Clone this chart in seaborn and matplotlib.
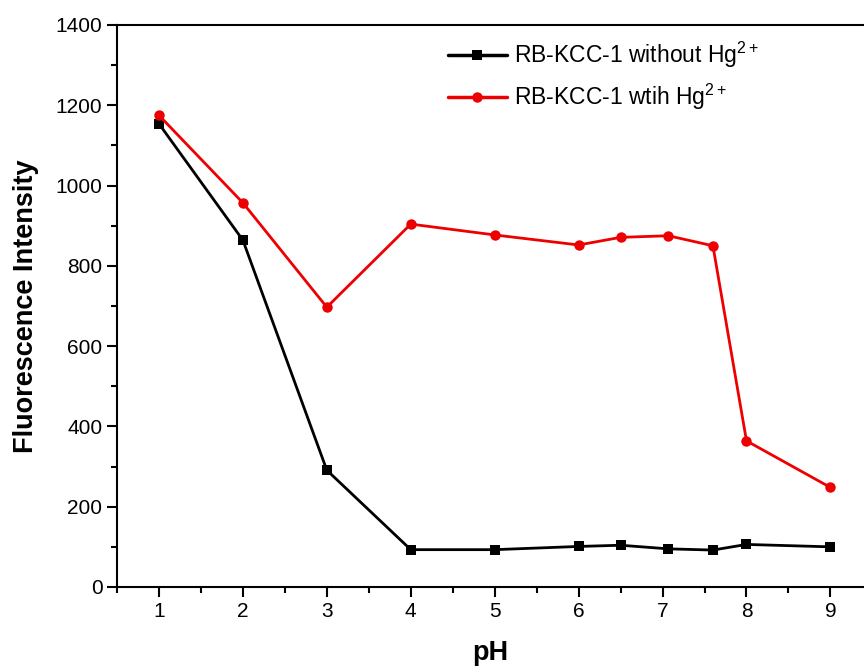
import numpy as np
import pandas as pd
import seaborn as sns
import matplotlib.pyplot as plt
from matplotlib.ticker import MultipleLocator

# pH values and fluorescence intensities
ph = [1, 2, 3, 4, 5, 6, 6.5, 7.07, 7.6, 8, 9]
without_hg = [1154, 864, 291, 93, 93, 101, 104, 95, 92, 106, 100]
with_hg = [1175, 957, 697, 904, 877, 852, 871, 875, 850, 364, 248]
labels = ['RB-KCC-1 without Hg$^{2+}$', 'RB-KCC-1 wtih Hg$^{2+}$']

sns.set_style('ticks')
plt.rcParams['font.family'] = ['Liberation Sans', 'DejaVu Sans']
plt.rcParams['mathtext.fontset'] = 'custom'
plt.rcParams['mathtext.rm'] = 'Liberation Sans'
plt.rcParams['mathtext.it'] = 'Liberation Sans'
for k in ['text.color', 'axes.labelcolor', 'xtick.color', 'ytick.color', 'axes.edgecolor']:
    plt.rcParams[k] = 'black'

df = pd.DataFrame({'pH': ph * 2,
                   'Intensity': without_hg + with_hg,
                   'Sample': [labels[0]] * len(ph) + [labels[1]] * len(ph)})

fig = plt.figure(figsize=(8.64, 6.72), dpi=100)
ax = fig.add_axes([0.1354, 0.1265, 0.8646, 0.8363])

sns.lineplot(data=df, x='pH', y='Intensity', hue='Sample', style='Sample',
             palette=['black', '#ee0000'], markers=['s', 'o'], dashes=False,
             linewidth=2, markersize=7.5, markeredgewidth=0, ax=ax)
# squares a bit smaller than the circles
ax.lines[0].set_markersize(6.5)

ax.set_xlim(0.5, 9.4)
ax.set_ylim(0, 1400)
ax.xaxis.set_major_locator(MultipleLocator(1))
ax.xaxis.set_minor_locator(MultipleLocator(0.5))
ax.yaxis.set_major_locator(MultipleLocator(200))
ax.yaxis.set_minor_locator(MultipleLocator(100))
ax.tick_params(which='major', direction='out', length=7, width=1.5, labelsize=15)
ax.tick_params(which='minor', direction='out', length=4, width=1.5)
for s in ['left', 'bottom', 'top']:
    ax.spines[s].set_linewidth(1.5)
ax.spines['right'].set_visible(False)

ax.set_xlabel('pH', fontsize=19.5, fontweight='bold', labelpad=14)
ax.set_ylabel('Fluorescence Intensity', fontsize=19.5, fontweight='bold', labelpad=12)

leg = ax.legend(loc='upper left', frameon=False, fontsize=16.5, handlelength=2.6,
                handletextpad=0.3, bbox_to_anchor=(0.415, 1.01))
leg.set_title(None)
for h in leg.legend_handles:
    h.set_linewidth(2.5)

fig.savefig('out.png', dpi=100)
